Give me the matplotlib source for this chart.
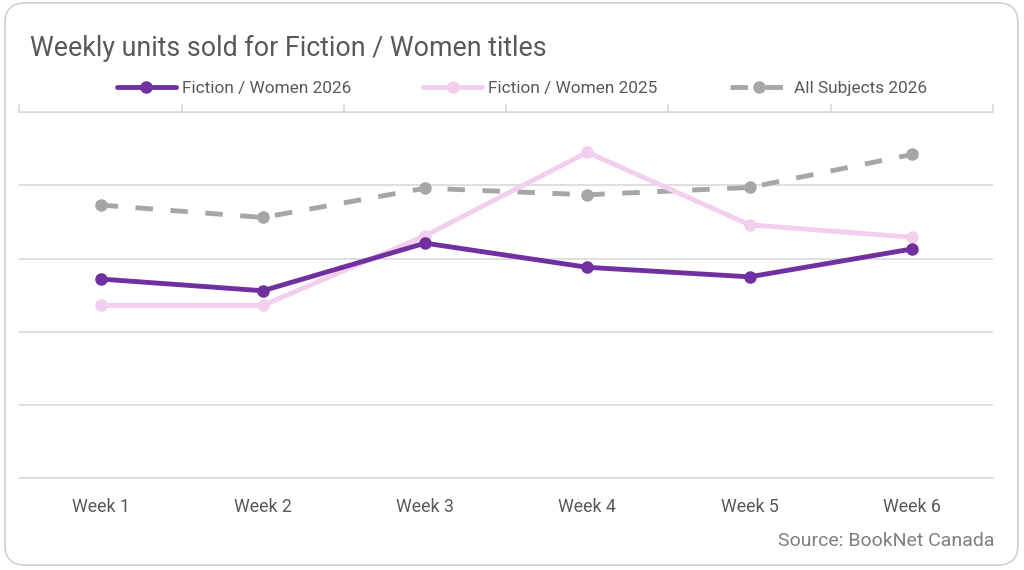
import matplotlib
matplotlib.use('Agg')
import matplotlib.pyplot as plt
import numpy as np
from matplotlib.patches import FancyBboxPatch

weeks = ['Week 1', 'Week 2', 'Week 3', 'Week 4', 'Week 5', 'Week 6']
fiction_women_2026 = [2.72, 2.56, 3.21, 2.88, 2.75, 3.13]
fiction_women_2025 = [2.36, 2.36, 3.31, 4.45, 3.46, 3.29]
all_subjects_2026 = [3.73, 3.56, 3.96, 3.87, 3.97, 4.42]

plt.rcParams['font.family'] = ['Roboto', 'DejaVu Sans']
TEXT = '#595959'
GRID = '#d9d9d9'

fig = plt.figure(figsize=(10.24, 5.7), dpi=100)
box = FancyBboxPatch((0.05, 0.05), 10.13, 5.62,
                     boxstyle='round,pad=0,rounding_size=0.2',
                     transform=fig.dpi_scale_trans, fc='white', ec='#d0d0d0', lw=1.2,
                     zorder=-10)
fig.patches.append(box)

ax = fig.add_axes([0.019, 0.1609, 0.9507, 0.6426])
ax.set_facecolor('none')
ax.set_zorder(1)
x = np.arange(len(weeks))

ax.plot(x, fiction_women_2026, color='#7030A0', lw=3.5, marker='o', ms=8,
        label='Fiction / Women 2026', zorder=4, solid_capstyle='round')
ax.plot(x, fiction_women_2025, color='#F2CEEF', lw=3.5, marker='o', ms=8,
        label='Fiction / Women 2025', zorder=3, solid_capstyle='round')
ax.plot(x, all_subjects_2026, color='#A6A6A6', lw=3.5, marker='o', ms=8,
        dashes=(3.6, 3.6), label='All Subjects 2026', zorder=2)

ax.set_xlim(-0.5, 5.5)
ax.set_ylim(0, 5)
ax.set_yticks([0, 1, 2, 3, 4, 5])
ax.yaxis.grid(True, color=GRID, lw=1.2)
ax.set_axisbelow(True)
ax.tick_params(axis='y', left=False, labelleft=False)
ax.set_xticks(x)
ax.set_xticklabels(weeks)
ax.tick_params(axis='x', bottom=False, colors=TEXT, labelsize=12.8, pad=10.5)
for s in ['left', 'right']:
    ax.spines[s].set_visible(False)
for s in ['top', 'bottom']:
    ax.spines[s].set_color(GRID)
    ax.spines[s].set_linewidth(1.2)

sec = ax.secondary_xaxis('top')
sec.set_xticks(np.arange(-0.5, 6, 1))
sec.set_xticklabels([])
sec.tick_params(axis='x', length=6, color=GRID, width=1.2)
sec.spines['top'].set_visible(False)

fig.text(30 / 1024, 1 - 48 / 570, 'Weekly units sold for Fiction / Women titles',
         fontsize=19.3, color=TEXT, ha='left', va='center')

leg = fig.legend(loc='center', bbox_to_anchor=(0.51, 1 - 88 / 570), ncol=3,
                 frameon=False, fontsize=12.4, handlelength=3.4, handletextpad=0.35,
                 columnspacing=4.2)
for t in leg.get_texts():
    t.set_color(TEXT)

fig.text(995 / 1024, 1 - 541 / 570, 'Source: BookNet Canada', fontsize=14,
         color='#7f7f7f', ha='right', va='center')

fig.savefig('out.png', dpi=100)
